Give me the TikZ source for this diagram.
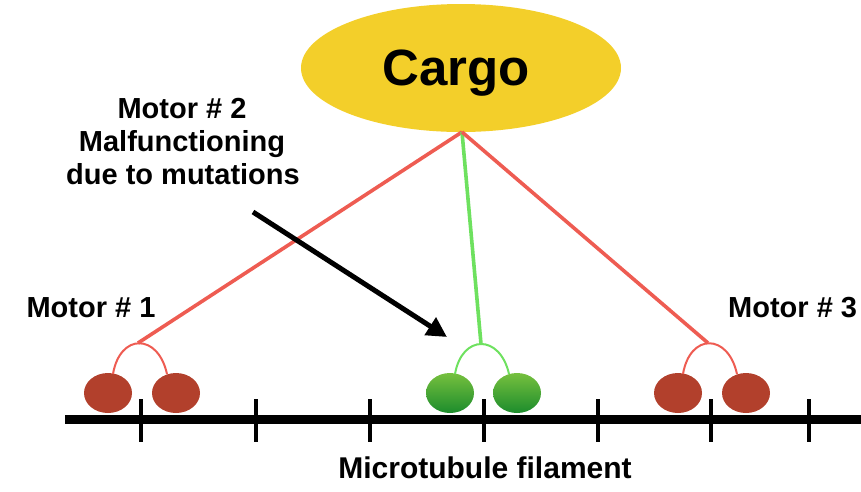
\documentclass[tikz,border=0pt]{standalone}
\usepackage{fontspec}
\setmainfont{Liberation Sans}
\usetikzlibrary{shapes.geometric,arrows.meta}
\definecolor{cargoY}{RGB}{243,207,42}
\definecolor{linkR}{RGB}{238,92,82}
\definecolor{linkG}{RGB}{110,225,95}
\definecolor{motorR}{RGB}{178,64,44}
\definecolor{motorGtop}{RGB}{118,192,62}
\definecolor{motorGbot}{RGB}{28,140,44}
\tikzset{
  lbl/.style={font=\fontsize{29}{33}\selectfont\bfseries, inner sep=0pt, anchor=base},
  headR/.style={ellipse, fill=motorR, minimum width=48pt, minimum height=40pt, inner sep=0pt},
  headG/.style={ellipse, top color=motorGtop, bottom color=motorGbot, minimum width=48pt, minimum height=40pt, inner sep=0pt},
  linkRed/.style={draw=linkR, line width=3.6pt},
  linkGreen/.style={draw=linkG, line width=3.6pt},
  stalkRed/.style={draw=linkR, line width=2pt},
  stalkGreen/.style={draw=linkG, line width=2pt},
  tick/.style={line width=4pt},
}
\begin{document}
\begin{tikzpicture}[x=1pt,y=-1pt]
\useasboundingbox (0,0) rectangle (861,491);

% cargo
\node[ellipse, fill=cargoY, minimum width=320pt, minimum height=128pt, inner sep=0pt] (cargo) at (461,68) {};
\node[lbl, font=\fontsize{51}{51}\selectfont\bfseries] (cargotext) at (456,85) {Cargo};
\coordinate (hub) at (462,132);

% filament
\coordinate (fL) at (65,419.5);
\coordinate (fR) at (861,419.5);
\draw[line width=9pt] (fL) -- (fR);
\foreach \x in {141,256,370,484,598,711,809}{
  \coordinate (t\x a) at (\x,399);
  \coordinate (t\x b) at (\x,442);
  \draw[tick] (t\x a) -- (t\x b);
}

% motor 1
\node[headR] (m1a) at (108,393) {};
\node[headR] (m1b) at (176,393) {};
\coordinate (p1) at (138,343);
\draw[stalkRed] (113,374) .. controls (120,333) and (158,333) .. (167,374);
\draw[linkRed] (hub) -- (p1);

% motor 2
\node[headG] (m2a) at (450,393) {};
\node[headG] (m2b) at (517,393) {};
\coordinate (p2) at (481,344);
\draw[stalkGreen] (455,374) .. controls (462,334) and (500,334) .. (509,374);
\draw[linkGreen] (hub) -- (p2);

% motor 3
\node[headR] (m3a) at (678,393) {};
\node[headR] (m3b) at (746,393) {};
\coordinate (p3) at (708,343);
\draw[stalkRed] (683,374) .. controls (690,333) and (728,333) .. (737,374);
\draw[linkRed] (hub) -- (p3);

% labels
\node[lbl] (mot2a) at (182,118) {Motor \# 2};
\node[lbl] (mot2b) at (182,151) {Malfunctioning};
\node[lbl] (mot2c) at (183,184) {due to mutations};
\node[lbl] (mot1) at (91,317) {Motor \# 1};
\node[lbl, anchor=base west] (mot3) at (728,317) {Motor \# 3};
\node[lbl, font=\fontsize{30}{33}\selectfont\bfseries] (mt) at (485,478) {Microtubule filament};

% arrow
\coordinate (arrS) at (253,212);
\coordinate (arrE) at (447,337);
\draw[line width=5pt, -{Triangle[length=20pt,width=20pt]}] (arrS) -- (arrE);
\end{tikzpicture}
\end{document}
